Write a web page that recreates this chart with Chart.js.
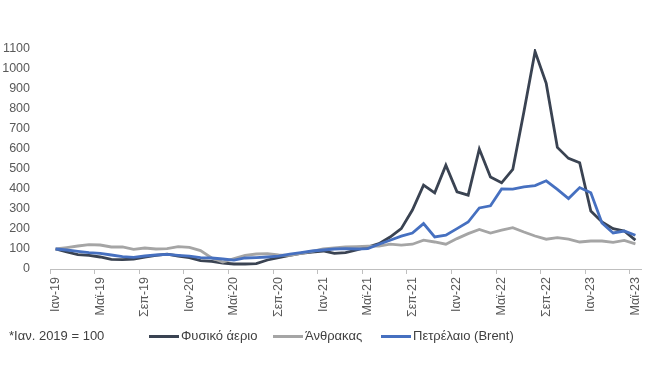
<!DOCTYPE html>
<html>
<head>
<meta charset="utf-8">
<script src="https://cdn.jsdelivr.net/npm/chart.js@4.4.0/dist/chart.umd.min.js"></script>
<style>
    body { margin: 0; background: #fff; font-family: "Liberation Sans", Arial, sans-serif; }
    #wrap { position: relative; width: 660px; height: 380px; }
    #legend { position: absolute; top: 327px; left: 0; width: 660px; height: 20px; font-size: 13px; color: #404040; }
    #legend span { position: absolute; top: 0; line-height: 18px; white-space: nowrap; }
    #legend i { display: inline-block; width: 30px; height: 3px; vertical-align: middle; margin-right: 2px; }
</style>
</head>
<body>
<div id="wrap">
    <canvas id="energyChart" width="660" height="380"></canvas>
    <div id="legend"></div>
</div>
<script>
// months Ιαν-19 .. Μαϊ-23
const months = ['Ιαν', 'Φεβ', 'Μαρ', 'Απρ', 'Μαϊ', 'Ιουν', 'Ιουλ', 'Αυγ', 'Σεπ', 'Οκτ', 'Νοε', 'Δεκ'];
const labels = [];
for (let y = 19; y <= 23; y++) {
    for (let m = 0; m < 12; m++) {
        if (y == 23 && m > 4) break;
        labels.push(months[m] + '-' + y);
    }
}

const yTicks = [0, 100, 200, 300, 400, 500, 600, 700, 800, 900, 1000, 1100];

const naturalGas = [100, 85, 72, 68, 60, 48, 47, 50, 60, 68, 74, 65,
    57, 42, 38, 30, 25, 25, 27, 45, 57, 68, 78, 85,
    90, 78, 82, 95, 110, 127, 160, 202, 295, 419, 381, 519,
    386, 369, 600, 460, 431, 498, 786, 1087, 928, 608, 553, 531,
    290, 235, 202, 190, 144];

const coal = [100, 107, 115, 122, 120, 110, 110, 98, 105, 100, 102, 112,
    108, 92, 55, 35, 52, 68, 75, 77, 70, 68, 78, 88,
    100, 105, 110, 112, 114, 114, 124, 119, 124, 144, 135, 124,
    152, 177, 198, 180, 194, 207, 185, 165, 149, 157, 149, 135,
    140, 140, 133, 143, 126];

const oilBrent = [100, 95, 88, 82, 78, 70, 62, 58, 65, 70, 73, 68,
    64, 57, 55, 50, 44, 55, 57, 60, 64, 74, 82, 90,
    95, 100, 102, 100, 102, 124, 144, 164, 180, 227, 160, 169,
    202, 235, 305, 316, 400, 399, 411, 417, 441, 398, 352, 407,
    381, 230, 180, 190, 169];

const seriesNames = ['Φυσικό άεριο', 'Άνθρακας', 'Πετρέλαιο (Brent)'];
const seriesColors = ['#3a4352', '#a5a5a5', '#4670c0'];
const footnote = '*Ιαν. 2019 = 100';

const data = {
    labels: labels,
    datasets: [naturalGas, coal, oilBrent].map(function(values, i) {
        return {
            label: seriesNames[i],
            data: values,
            borderColor: seriesColors[i],
            backgroundColor: seriesColors[i],
            borderWidth: 2.8,
            pointRadius: 0,
            tension: 0,
            order: 3 - i
        };
    })
};

const config = {
    type: 'line',
    data: data,
    options: {
        responsive: false,
        animation: false,
        layout: { padding: { top: 49, right: 19, left: 0, bottom: 0 } },
        plugins: { legend: { display: false }, tooltip: { enabled: false } },
        scales: {
            x: {
                offset: true,
                grid: {
                    offset: true,
                    drawOnChartArea: false,
                    drawTicks: true,
                    tickLength: 5,
                    color: function(ctx) { return ctx.index % 4 === 0 ? '#bfbfbf' : 'rgba(0,0,0,0)'; }
                },
                border: { display: true, color: '#bfbfbf' },
                ticks: {
                    autoSkip: false,
                    minRotation: 90,
                    maxRotation: 90,
                    padding: 3,
                    color: '#595959',
                    font: { family: 'Liberation Sans', size: 12.5 },
                    callback: function(value, index) { return index % 4 === 0 ? labels[index] : ''; }
                },
                afterFit: function(scale) { scale.height = 111; }
            },
            y: {
                min: 0,
                max: 1100,
                grid: { display: false },
                border: { display: false },
                afterBuildTicks: function(scale) { scale.ticks = yTicks.map(v => ({ value: v })); },
                ticks: {
                    padding: 12,
                    color: '#595959',
                    font: { family: 'Liberation Sans', size: 12.5 },
                    callback: function(value) { return String(value); }
                },
                afterFit: function(scale) { scale.width = 50; }
            }
        }
    }
};

const myEnergyChart = new Chart(document.getElementById('energyChart'), config);

// legend under the chart
const legend = document.getElementById('legend');
const legendLeft = [149, 273, 381];
let html = '<span style="left:9px">' + footnote + '</span>';
for (let i = 0; i < seriesNames.length; i++) {
    html += '<span style="left:' + legendLeft[i] + 'px"><i style="background:' + seriesColors[i] + '"></i>' + seriesNames[i] + '</span>';
}
legend.innerHTML = html;
</script>
</body>
</html>
